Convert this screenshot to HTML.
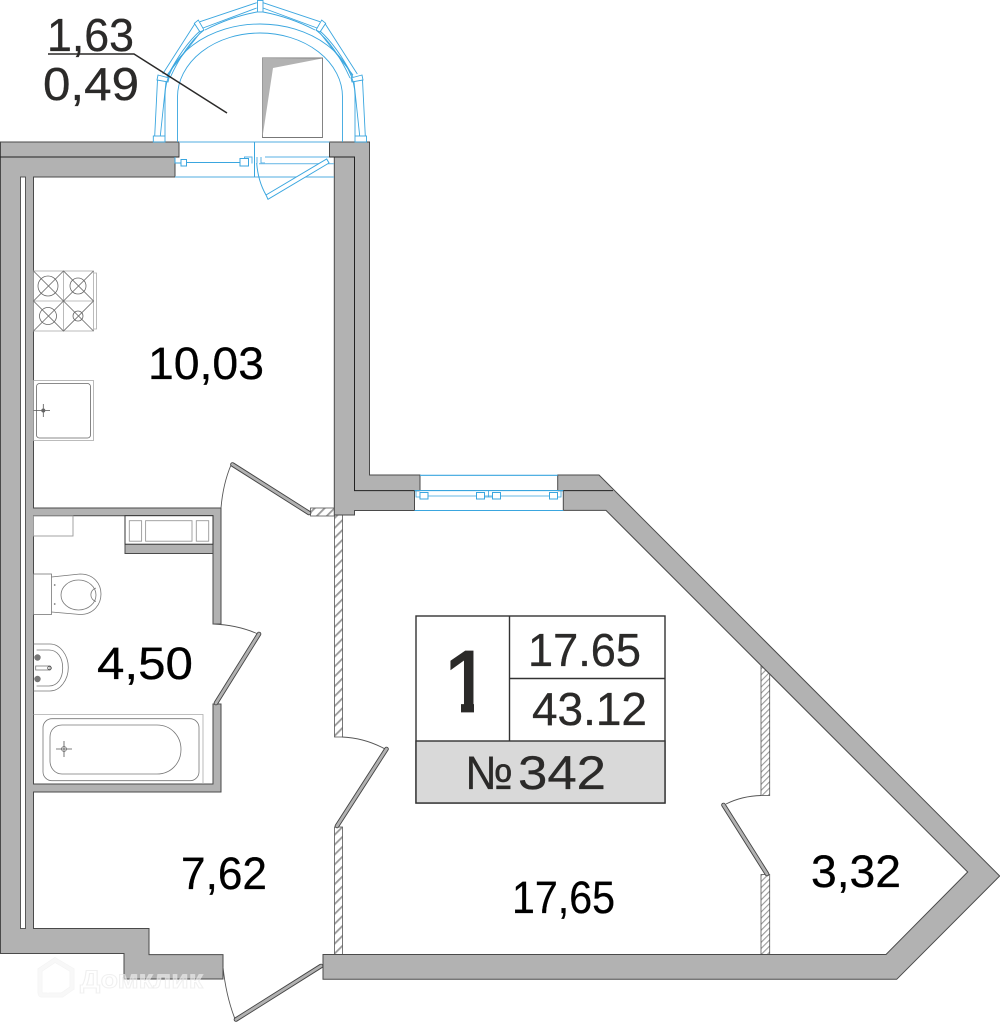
<!DOCTYPE html>
<html><head><meta charset="utf-8"><style>
html,body{margin:0;padding:0;background:#fff}
svg{display:block}
text{font-family:"Liberation Sans",sans-serif}
</style></head><body>
<svg width="1000" height="1023" viewBox="0 0 1000 1023" xmlns="http://www.w3.org/2000/svg">
<defs>
<pattern id="h" width="7" height="7" patternUnits="userSpaceOnUse" patternTransform="rotate(45)">
<rect width="7" height="7" fill="#fff"/><rect width="1.8" height="7" fill="#999"/>
</pattern>
<pattern id="h2" width="4.300" height="4.300" patternUnits="userSpaceOnUse" patternTransform="rotate(45)">
<rect width="4.300" height="4.300" fill="#fff"/><rect width="1.100" height="4.300" fill="#999"/>
</pattern>
<clipPath id="one"><path d="M440 645H474V714H461V685H440Z"/></clipPath>
</defs>
<rect width="1000" height="1023" fill="#fff"/>

<!-- hatched partitions -->
<g fill="url(#h)" stroke="#555" stroke-width=".8">
<rect x="334.500" y="515" width="8" height="222"/>
<rect x="334.500" y="827" width="8" height="127.500"/>
<rect x="310.500" y="508" width="24" height="8"/>
</g>
<g fill="url(#h2)" stroke="#555" stroke-width=".8">
<rect x="761" y="666" width="8.700" height="129.500"/>
<rect x="761" y="874.500" width="8.700" height="80"/>
</g>

<!-- walls -->
<g fill="#b2b2b2" stroke="#4a4a4a" stroke-width="1">
<path d="M.5 142H179V157H175V177H33.500V508H221V624H213V515.700H33.500V784H213V704H221V792H33.500V928.500H149V954.600H223V979H124V953.500H.5Z"/>
<path d="M329.500 142H369.500V475H420V490.600H414.500V510.500H354.500V515H334.300V157H329.500Z"/>
<path d="M557.700 475H599L999.700 876L896.700 979.300H323V954.500H886L967.700 872L606 510.400H563.300V490.600H557.700Z"/>
<rect x="125" y="544" width="88" height="9.500"/>
</g>
<rect x="20.500" y="177" width="5" height="751.500" fill="#fff" stroke="#4a4a4a" stroke-width=".9"/>
<g fill="none" stroke="#222" stroke-width="1">
<path d="M0 157H179"/><path d="M329.500 157H354.500V490.600H420"/><path d="M557.700 490.600H613"/>
</g>
<rect x="125" y="515.700" width="88" height="28.500" fill="#fff" stroke="#333" stroke-width="1"/>
<g fill="#fff" stroke="#999" stroke-width=".9">
<rect x="129.300" y="520.700" width="12.300" height="20.500"/>
<rect x="145.600" y="520.700" width="46.400" height="20.500"/>
<rect x="196.300" y="520.700" width="12.400" height="20.500"/>
<rect x="33.500" y="516" width="39.500" height="20"/>
</g>

<!-- doors -->
<g fill="none" stroke="#555" stroke-width=".9">
<path d="M231 465Q223 484 221 508"/>
<path d="M213 624Q238 625 258 634"/>
<path d="M342 737Q365 738 385 749"/>
<path d="M726 804Q742 796 761 795.500"/>
<path d="M223 967Q226 996 235 1019"/>
</g>
<g stroke-linecap="round">
<g stroke="#444" stroke-width="4.600">
<path d="M232.500 464.500L309 513"/><path d="M259 634L216 703"/><path d="M386.500 749L337 826"/><path d="M723.500 805L767 874"/><path d="M321 966L236 1019.500"/>
</g>
<g stroke="#b2b2b2" stroke-width="2.800">
<path d="M232.500 464.500L309 513"/><path d="M259 634L216 703"/><path d="M386.500 749L337 826"/><path d="M723.500 805L767 874"/><path d="M321 966L236 1019.500"/>
</g>
</g>

<!-- balcony -->
<g fill="none" stroke="#3aa6df" stroke-width=".9">
<path d="M177.500 142V97A82.500 64 0 0 1 342.500 97V142"/>
<path d="M165 136V96A95 72 0 0 1 355 96V136"/>
<path d="M157.500 80L154.700 136M166 82L160.300 136"/>
<path d="M162.700 74L194.700 24M167 75L200 33"/>
<path d="M170 78Q185 45 204 30M167 77Q183 46 200 31"/>
<path d="M200 21.700L256.700 2.700M203 28L256.700 8"/>
<path d="M205 30Q230 17 257 12M315 30Q290 17 263 12"/>
<path d="M263 2.700L320 21.700M263 8L317 28"/>
<path d="M357.300 74L325.300 24M353 75L320 33"/>
<path d="M350 78Q335 45 316 30M353 77Q337 46 320 31"/>
<path d="M362.500 80L365.300 136M354 82L359.700 136"/>
<rect x="153.300" y="136" width="11.700" height="6"/>
<rect x="355" y="136" width="11.500" height="6"/>
<path d="M158 75L169 78L168 82L157 80Z"/>
<path d="M351 78L362 75L363 80L352 82Z"/>
<path d="M194.300 23.300L198.300 20L204 30L200 32Z"/>
<path d="M316 30L321.700 20L325.700 23.300L320 32Z"/>
<rect x="257.500" y="0.500" width="5.500" height="11.500"/>
</g>
<path d="M262.500 58H322.500V137.500H262.500Z" fill="#fff" stroke="#777" stroke-width=".9"/>
<path d="M262.500 58L322 58.500L273 68L262.500 137Z" fill="#b2b2b2"/>

<!-- top window -->
<g fill="none" stroke="#3aa6df" stroke-width="1">
<path d="M179 142H329.500" stroke-width="1.300" stroke="#74bee8"/>
<path d="M175 177H334" stroke="#74bee8" stroke-width="1.300"/>
<path d="M254.500 142V177"/>
<path d="M175 157V163H181"/>
<path d="M186 162.500H240"/>
<rect x="181" y="159.500" width="5.500" height="6.500" fill="#fff"/>
<rect x="240" y="158.500" width="8.500" height="7.500" fill="#fff"/>
<path d="M244.500 158V157H252V163.500M257 157V163.500M261 157V163H265M265 157H329" stroke="#5ab2e4"/>
<path d="M259 163.700H334" stroke="#74bee8" stroke-width="1.200"/>
<path d="M256.700 163Q258 181 266 195"/>
<path d="M266 195L326.700 159L329 163L268 199.300Z" fill="#fff"/>
</g>

<!-- right window -->
<g fill="none" stroke="#3aa6df">
<path d="M420 475.300H557.700" stroke-width="1.100"/>
<path d="M414.500 490.600H563.300" stroke-width="1.100"/>
<path d="M414.500 510.500H563.300" stroke-width="1.100"/>
<path d="M420 496H558" stroke="#9ad0ee" stroke-width="1.600"/>
<path d="M416 491V497H420M561 491V497H558M488.500 491V497M484 497H492.500" stroke-width=".8"/>
<g fill="#fff" stroke-width="1">
<rect x="420" y="492.500" width="8" height="6.500"/>
<rect x="476.500" y="492.500" width="8" height="6.500"/>
<rect x="492.500" y="492.500" width="8" height="6.500"/>
<rect x="549.500" y="492.500" width="8" height="6.500"/>
</g>
</g>

<!-- stove -->
<g fill="none" stroke="#666" stroke-width=".8">
<rect x="33.500" y="271" width="60" height="60" stroke="#aaa"/>
<path d="M93.500 273H96.500V329H93.500" stroke="#aaa"/>
<path d="M63.500 271V331M33.500 301H93.500" stroke="#aaa"/>
<path d="M33.500 271L93.500 331M93.500 271L33.500 331M63.500 271L33.500 301L63.500 331L93.500 301Z"/>
<circle cx="48" cy="286" r="10"/><circle cx="78" cy="286" r="8"/><circle cx="48" cy="316" r="8.500"/><circle cx="78" cy="316" r="5"/>
<rect x="33.500" y="380.500" width="60" height="60" stroke="#aaa"/>
<rect x="36.500" y="383.500" width="54" height="54.500" rx="3"/>
<path d="M33.500 410.500H50M43.300 404V417" stroke="#555"/>
</g>
<circle cx="43.300" cy="410.500" r="2" fill="#666"/>

<!-- toilet / sink / bath -->
<g fill="none" stroke="#777" stroke-width=".8">
<rect x="33.500" y="574" width="18" height="40.500" fill="#fff"/>
<path d="M51.500 577L80 574C94 574 101 584 101 594S94 614.500 80 614.500L51.500 612"/>
<ellipse cx="78.500" cy="595" rx="17.500" ry="15"/>
<path d="M96 588A7 7 0 0 0 96 601.500"/>
<path d="M33.500 644H50C60 644 68.300 655 68.300 667.500S60 691 50 691H33.500"/>
<path d="M36.600 650H49C57 650 62.700 657 62.700 668S57 686 49 686H36.600"/>
<rect x="35.700" y="666" width="14.300" height="4"/>
<circle cx="49.500" cy="668" r="1.800" stroke="#444"/>
<path d="M203 784V714.500H33.500" stroke="#aaa"/>
<rect x="43" y="718.700" width="156" height="62" rx="9"/>
<path d="M62 725H157C171 725 181 736 181 749.500S171 774 157 774H62C55 774 50 768 50 761V737C50 730 55 725 62 725Z"/>
<circle cx="64" cy="749" r="2.500"/>
<path d="M56 749H72M64 741V757" stroke="#555"/>
</g>
<g fill="#777">
<circle cx="37.500" cy="657.500" r="3.200"/><circle cx="37.500" cy="679" r="3.200"/>
<circle cx="54.700" cy="585" r=".9"/><circle cx="54.700" cy="604" r=".9"/>
</g>

<!-- legend -->
<g stroke="#333" stroke-width="1.400">
<rect x="416" y="616" width="249" height="187" fill="#fff"/>
<rect x="416" y="741" width="249" height="62" fill="#d9d9d9"/>
<path d="M509.500 616V741M509.500 678.500H665" fill="none"/>
</g>

<!-- text -->
<g fill="#2b2a29" font-size="46" stroke="#2b2a29" stroke-width=".3">
<text x="47" y="51" textLength="87" lengthAdjust="spacingAndGlyphs">1,63</text>
<text x="43" y="100" textLength="96" lengthAdjust="spacingAndGlyphs">0,49</text>
<text x="443" y="711.700" font-size="87" stroke-width="1.800" clip-path="url(#one)">1</text>
<text x="528" y="666" textLength="113" lengthAdjust="spacingAndGlyphs">17.65</text>
<text x="532" y="725" textLength="115" lengthAdjust="spacingAndGlyphs">43.12</text>
<text x="465" y="789" font-size="47" textLength="48" lengthAdjust="spacingAndGlyphs">№</text>
<text x="518" y="789" font-size="47" textLength="88" lengthAdjust="spacingAndGlyphs">342</text>
</g>
<g fill="#000" font-size="45" stroke="#000" stroke-width=".3">
<text x="148" y="379" textLength="116" lengthAdjust="spacingAndGlyphs">10,03</text>
<text x="97" y="679" textLength="96" lengthAdjust="spacingAndGlyphs">4,50</text>
<text x="181" y="889" textLength="86" lengthAdjust="spacingAndGlyphs">7,62</text>
<text x="512" y="913" textLength="103" lengthAdjust="spacingAndGlyphs">17,65</text>
<text x="811" y="887" textLength="90" lengthAdjust="spacingAndGlyphs">3,32</text>
</g>
<path d="M48 54H134L227 113" fill="none" stroke="#2b2a29" stroke-width="1.500"/>

<!-- watermark -->
<g>
<g fill="none" stroke="#ececec" stroke-width="5" opacity=".6">
<path d="M55 960L72 970V988L62 995H42Q40 995 40 992V970Z"/>
</g>
<g opacity=".45">
<path d="M55 960L72 970V988L62 995H42Q40 995 40 992V970Z" fill="none" stroke="#fff" stroke-width="3.500"/>
<path d="M48 993V978L56 973L64 978V986" fill="none" stroke="#fff" stroke-width="3"/>
</g>
<text x="80" y="988" fill="#fff" fill-opacity=".5" stroke="#e6e6e6" stroke-opacity=".6" stroke-width="1" font-size="25" font-weight="bold" textLength="123" lengthAdjust="spacingAndGlyphs">Домклик</text>
</g>
</svg>
</body></html>
